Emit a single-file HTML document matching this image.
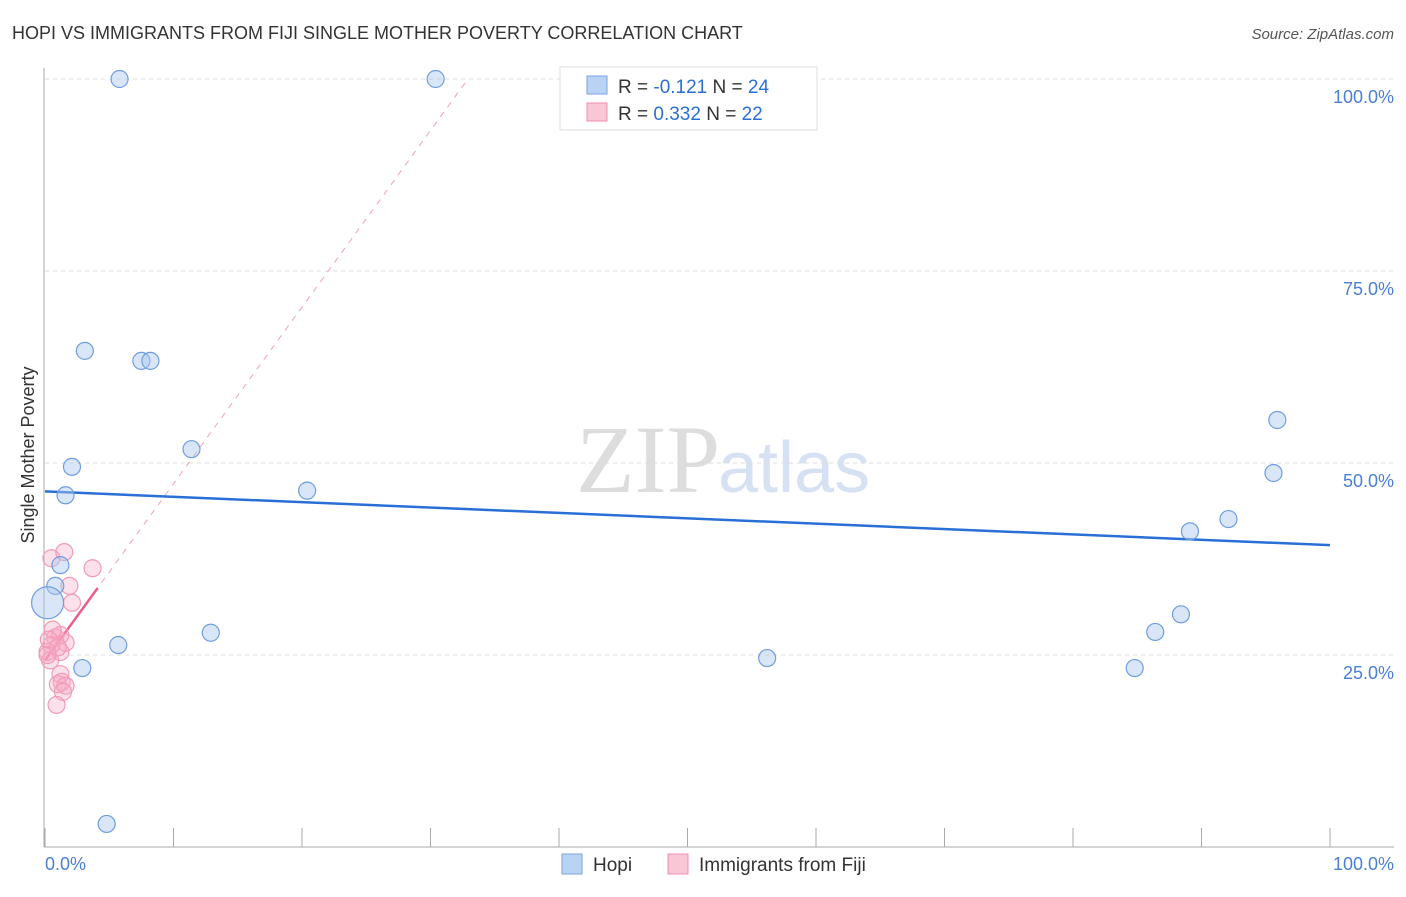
<!DOCTYPE html>
<html><head><meta charset="utf-8"><style>
body{margin:0;background:#fff;font-family:"Liberation Sans",sans-serif;}
svg text{font-family:"Liberation Sans",sans-serif;}
</style></head><body>
<svg width="1406" height="892">
<text x="12" y="39" font-size="18" fill="#333">HOPI VS IMMIGRANTS FROM FIJI SINGLE MOTHER POVERTY CORRELATION CHART</text>
<text x="1394" y="39" font-size="15" fill="#555" font-style="italic" text-anchor="end">Source: ZipAtlas.com</text>
<text x="720" y="492" font-size="96" fill="#ddd" text-anchor="end" font-family="Liberation Serif" style="font-family:'Liberation Serif',serif">ZIP</text>
<text x="718" y="492" font-size="72" fill="#d6e2f3">atlas</text>
<g id="grid"></g><g id="axes"></g><g id="lines"></g><g id="pts"></g>
<text transform="translate(34,455) rotate(-90)" font-size="18" fill="#333" text-anchor="middle">Single Mother Poverty</text>
<text x="45" y="870" font-size="18" fill="#4a7fd6">0.0%</text>
<text x="1394" y="870" font-size="18" fill="#4a7fd6" text-anchor="end">100.0%</text>
<g>
<rect x="560" y="67" width="257" height="63" fill="#fff" stroke="#ddd"/>
<rect x="587" y="76" width="20" height="18" fill="#b9d3f5" stroke="#7ba5e0"/>
<rect x="587" y="103" width="20" height="18" fill="#f9c6d5" stroke="#f08fae"/>
<text x="618" y="93" font-size="19" fill="#333">R = <tspan fill="#2a6fd6">-0.121</tspan>   N = <tspan fill="#2a6fd6">24</tspan></text>
<text x="618" y="120" font-size="19" fill="#333">R = <tspan fill="#2a6fd6"> 0.332</tspan>   N = <tspan fill="#2a6fd6">22</tspan></text>
</g>
<g>
<rect x="562" y="854" width="20" height="20" fill="#b9d3f5" stroke="#7ba5e0"/>
<text x="593" y="871" font-size="19" fill="#333">Hopi</text>
<rect x="668" y="854" width="20" height="20" fill="#f9c6d5" stroke="#f08fae"/>
<text x="699" y="871" font-size="19" fill="#333">Immigrants from Fiji</text>
</g>
</svg>
<script>
const yTicks=[100,75,50,25];
const yTickLabels=["100.0%","75.0%","50.0%","25.0%"];
const xTicks=[0,10,20,30,40,50,60,70,80,90,100];
const hopiX=[5.8,30.4,3.1,7.5,8.2,11.4,2.1,1.6,20.4,0.8,1.2,0.2,5.7,2.9,12.9,4.8,95.9,95.6,92.1,89.1,88.4,86.4,84.8,56.2];
const hopiY=[100,100,64.6,63.3,63.3,51.8,49.5,45.8,46.4,34.0,36.7,31.8,26.3,23.3,27.9,3.0,55.6,48.7,42.7,41.1,30.3,28.0,23.3,24.6];
const fijiX=[0.5,1.5,3.7,1.9,2.1,0.8,1.2,1.6,0.5,0.2,1.2,0.4,1.2,1.3,1.0,1.6,1.4,0.9,0.2,0.6,0.3,1.0];
const fijiY=[37.6,38.4,36.3,34.0,31.8,27.3,27.6,26.6,26.3,25.4,25.4,24.3,22.5,21.5,21.2,21.0,20.2,18.5,25.0,28.3,27.0,26.0];
const hopiTrend=[46.3,39.3];
const fijiTrend=[24.3,2.3];
const X=v=>45+v*12.85, Y=v=>79+(100-v)*7.68;
const NS="http://www.w3.org/2000/svg";
function mk(t,p,a){const e=document.createElementNS(NS,t);for(const k in a)e.setAttribute(k,a[k]);p.appendChild(e);return e;}
const grid=document.getElementById('grid'),axes=document.getElementById('axes'),lines=document.getElementById('lines'),pts=document.getElementById('pts');
yTicks.forEach((t,i)=>{const l=mk('line',grid,{x1:45,x2:1394,y1:Y(t),y2:Y(t),stroke:'#ddd','stroke-dasharray':'4,4'});


const tx=mk('text',grid,{x:1394,y:Y(t)+24,'font-size':18,fill:'#4a7fd6','text-anchor':'end'});tx.textContent=yTickLabels[i];

});
const ya=mk('line',axes,{x1:44,x2:44,y1:68,y2:847,stroke:'#aaa'});


const xa=mk('line',axes,{x1:44,x2:1394,y1:847,y2:847,stroke:'#aaa'});


xTicks.forEach(t=>{const l=mk('line',axes,{x1:X(t),x2:X(t),y1:828,y2:847,stroke:'#aaa'});

});
// fiji dashed
let xEnd=(100-fijiTrend[0])/fijiTrend[1];
const fd=mk('line',lines,{x1:X(0),y1:Y(fijiTrend[0]),x2:X(xEnd),y2:Y(100),stroke:'#f0a0b8','stroke-dasharray':'6,6','stroke-width':1});


const fs=mk('line',lines,{x1:X(0),y1:Y(fijiTrend[0]),x2:X(4.1),y2:Y(fijiTrend[0]+fijiTrend[1]*4.1),stroke:'#e8608a','stroke-width':2.5});


const hl=mk('line',lines,{x1:X(0),y1:Y(hopiTrend[0]),x2:X(100),y2:Y(hopiTrend[1]),stroke:'#2a6fd6','stroke-width':2.5});


fijiX.forEach((x,i)=>{const c=mk('circle',pts,{cx:X(x),cy:Y(fijiY[i]),r:8.5,fill:'rgba(246,170,195,0.35)',stroke:'#f29bb6','stroke-width':1.2});

});
hopiX.forEach((x,i)=>{const c=mk('circle',pts,{cx:X(x),cy:Y(hopiY[i]),r:(i==11?16:8.5),fill:'rgba(170,200,240,0.45)',stroke:'#6f9ee0','stroke-width':1.2});

});
</script>
</body></html>
